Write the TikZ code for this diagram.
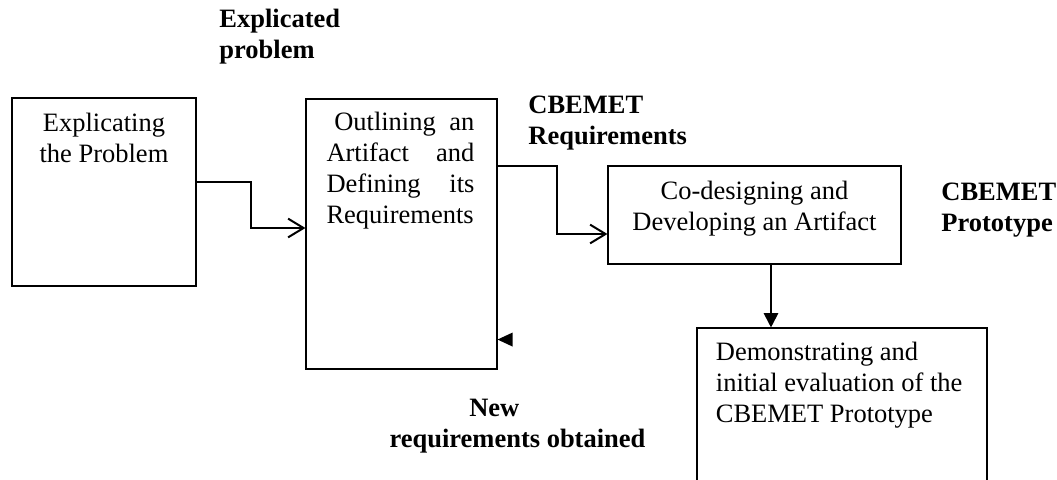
\documentclass[tikz,border=0pt]{standalone}
\usepackage{fontspec}
\setmainfont{Liberation Serif}
\usetikzlibrary{calc,arrows.meta}
\newcommand\px{0.453pt}

\begin{document}
\begin{tikzpicture}[x=\px,y=-\px,
  every node/.style={font=\fontsize{12}{14}\selectfont, inner sep=0pt},
  tag/.style={font=\fontsize{12}{14}\selectfont\bfseries},
  stage/.style 2 args={draw, line width=0.5pt, minimum width=#1*\px, minimum height=#2*\px},
  flow/.style={line width=0.9pt, -{Straight Barb[length=7pt,width=8.5pt]}},
  push/.style={line width=0.9pt, -{Triangle[length=6.5pt,width=6.5pt]}}]
  \useasboundingbox (0,0) rectangle (1057,479);
  \clip (0,0) rectangle (1057,479);
  \node[stage={184}{188}] (explicate) at (104,192) {};
  \node[stage={191}{270}] (outline) at (401.5,234) {};
  \node[stage={293}{98}] (codesign) at (754.5,215) {};
  \node[stage={290}{172}] (demo) at (842,414) {};
  \node[anchor=base, align=center] (explicatetext) at ($(explicate.north)+(0,65)$) {Explicating\\the Problem};
  \node[anchor=base, text width=67pt, align=justify] (outlinetext) at ($(outline.north)+(-1,32)$)
    {\hspace*{3.5pt}Outlining an\linebreak Artifact and\linebreak Defining its\linebreak Requirements};
  \node[anchor=base, align=center] (codesigntext) at ($(codesign.north)+(0,65)$) {Co-designing and\\Developing an Artifact};
  \node[anchor=base west, align=left] (demotext) at ($(demo.north west)+(19,95)$) {Demonstrating and\\initial evaluation of the\\CBEMET Prototype};
  \node[tag, anchor=base west, align=left] (explicated) at (219,58) {Explicated\\problem};
  \node[tag, anchor=base west, align=left] (requirements) at (528,144) {CBEMET\\Requirements};
  \node[tag, anchor=base west, align=left] (prototype) at (941,231) {CBEMET\\Prototype};
  \node[tag, anchor=base, align=center] (newreq) at (517.5,447) {New\hspace*{21pt}\\requirements obtained};
  \draw[flow] ($(explicate.east)+(0,-10)$) -- ++(54,0) |- ($(outline.west)+(0,-6)$);
  \draw[flow] ($(outline.east)+(0,-68)$) -- ++(59,0) |- ($(codesign.west)+(0,19)$);
  \coordinate (drop) at ($(codesign.south)+(16.5,0)$);
  \draw[push] (drop) -- (drop |- demo.north);
  \fill ($(outline.south east)+(0,-30)$) -- ++(15,-7) -- ++(0,14) -- cycle;
\end{tikzpicture}
\end{document}
